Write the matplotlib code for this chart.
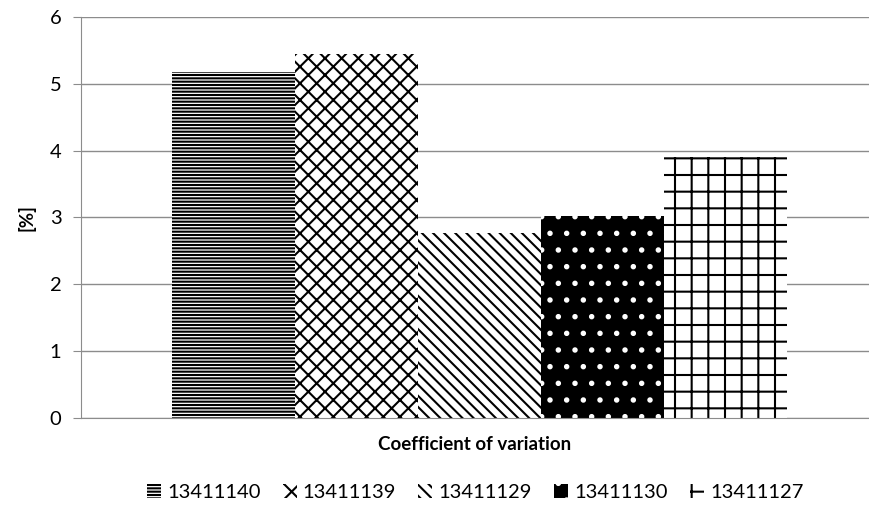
import numpy as np
import matplotlib.pyplot as plt

# data
categoria = ['Coefficient of variation']
series = ['13411140', '13411139', '13411129', '13411130', '13411127']
valores = [5.18, 5.45, 2.77, 3.02, 3.91]

# estilos de relleno
caras = ['white', 'white', 'white', 'black', 'white']
tramas = ['-----', 'xx', '\\\\\\', '.', '+']
bordes = ['black', 'black', 'black', 'white', 'black']

plt.rcParams['font.family'] = ['Lato', 'DejaVu Sans']
plt.rcParams['hatch.linewidth'] = 1.5

fig = plt.figure(figsize=(8.7, 5.25), dpi=100)
ax = fig.add_axes([0.093, 0.204, 0.906, 0.764])

n = len(series)
ancho = 0.156
x0 = np.arange(len(categoria))
desp = (np.arange(n) - (n - 1) / 2) * ancho + 0.006
for i in range(n):
    ax.bar(x0 + desp[i], [valores[i]], width=ancho, color=caras[i],
           hatch=tramas[i], edgecolor=bordes[i], linewidth=0,
           label=series[i], zorder=2)

ax.set_xlim(-0.5, 0.5)
ax.set_ylim(0, 6)
ax.set_yticks(range(0, 7))
ax.yaxis.grid(True, color='#8c8c8c', linewidth=1.0, zorder=0)
ax.set_axisbelow(True)
for s in ['top', 'right']:
    ax.spines[s].set_visible(False)
ax.spines['left'].set_color('#8c8c8c')
ax.spines['bottom'].set_color('#8c8c8c')
ax.tick_params(axis='y', colors='#8c8c8c', length=6, labelsize=14.5,
               labelcolor='black', pad=8)
ax.set_xticks(x0)
ax.set_xticklabels(categoria, fontsize=13.5, fontweight='bold')
ax.tick_params(axis='x', length=0, pad=13)
ax.set_ylabel('[%]', fontsize=13.5, fontweight='bold', labelpad=10)

ax.legend(loc='center', bbox_to_anchor=(0.5, -0.185), ncol=5, frameon=False,
          fontsize=14.5, handlelength=0.7, handleheight=0.7, handletextpad=0.3,
          columnspacing=1.1)

plt.savefig('out.png', dpi=100)
